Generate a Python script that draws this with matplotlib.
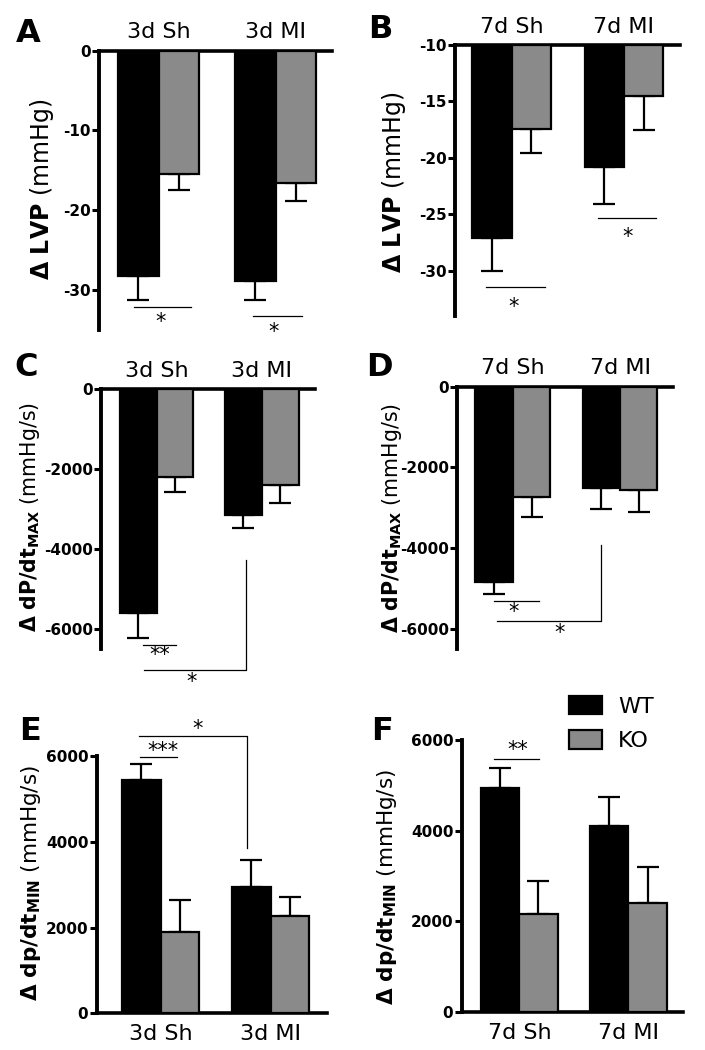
import numpy as np
import matplotlib
matplotlib.use("Agg")
import matplotlib.pyplot as plt

# category labels
groups_3d = ["3d Sh", "3d MI"]
groups_7d = ["7d Sh", "7d MI"]
series_names = ["WT", "KO"]

# A: delta LVP, 3 days (mmHg)
lvp3_wt = [-28.2, -28.8]
lvp3_wt_err = [3.0, 2.5]
lvp3_ko = [-15.5, -16.6]
lvp3_ko_err = [2.0, 2.2]

# B: delta LVP, 7 days (mmHg)
lvp7_wt = [-27.1, -20.8]
lvp7_wt_err = [2.9, 3.3]
lvp7_ko = [-17.4, -14.5]
lvp7_ko_err = [2.2, 3.0]

# C: delta dP/dt max, 3 days (mmHg/s)
dpmax3_wt = [-5580, -3140]
dpmax3_wt_err = [640, 320]
dpmax3_ko = [-2200, -2390]
dpmax3_ko_err = [370, 460]

# D: delta dP/dt max, 7 days (mmHg/s)
dpmax7_wt = [-4840, -2520]
dpmax7_wt_err = [300, 500]
dpmax7_ko = [-2730, -2560]
dpmax7_ko_err = [500, 540]

# E: delta dp/dt min, 3 days (mmHg/s)
dpmin3_wt = [5450, 2940]
dpmin3_wt_err = [360, 640]
dpmin3_ko = [1890, 2280]
dpmin3_ko_err = [750, 430]

# F: delta dp/dt min, 7 days (mmHg/s)
dpmin7_wt = [4930, 4090]
dpmin7_wt_err = [460, 650]
dpmin7_ko = [2150, 2410]
dpmin7_ko_err = [740, 780]

# significance marks: (x0, x1, y, label, label_x, label_y)
sig_a = [(-0.21, 0.28, -32.1, "*", 0.02, -34.0), (0.81, 1.23, -33.25, "*", 0.98, -35.3)]
sig_b = [(-0.23, 0.30, -31.4, "*", 0.02, -33.2), (0.77, 1.29, -25.3, "*", 1.03, -27.0)]
sig_c = [(-0.13, 0.18, -6390, "**", 0.03, -6640)]
sig_d = [(-0.18, 0.24, -5306, "*", 0.01, -5580)]
sig_e = [(-0.19, 0.15, 5967, "***", 0.02, 6120)]
sig_f = [(-0.23, 0.18, 5580, "**", -0.01, 5780)]
# brackets: (x0, x1, y, y_end, label, label_x, label_y)
brk_c = [(-0.12, 0.85, -7017, -4267, "*", 0.33, -7330)]
brk_d = [(-0.15, 0.82, -5802, -3926, "*", 0.44, -6108)]
brk_e = [(-0.20, 0.79, 6465, 3846, "*", 0.34, 6640)]

GRAY = "#8a8a8a"
W, H = 705, 1050

fig = plt.figure(figsize=(W / 100, H / 100), dpi=100)


def px_axes(left, top, right, bottom):
    return fig.add_axes([left / W, 1 - bottom / H, (right - left) / W, (bottom - top) / H])


def draw_panel(ax, groups, wt, wt_err, ko, ko_err, base, ylim, yticks, xlim, on_top):
    x = np.arange(len(groups))
    w = 0.35
    wt = np.array(wt, float)
    ko = np.array(ko, float)
    b1 = ax.bar(x - w / 2, wt - base, w, bottom=base, color="black",
                edgecolor="black", linewidth=1.6, zorder=3)
    b2 = ax.bar(x + w / 2, ko - base, w, bottom=base, color=GRAY,
                edgecolor="black", linewidth=1.6, zorder=3)
    for xs, v, e in ((x - w / 2, wt, wt_err), (x + w / 2, ko, ko_err)):
        e = np.array(e, float)
        z = np.zeros_like(e)
        yerr = [e, z] if on_top else [z, e]
        ax.errorbar(xs, v, yerr=yerr, fmt="none", ecolor="black",
                    elinewidth=1.6, capsize=8, capthick=1.6, zorder=2)
    ax.set_xlim(*xlim)
    ax.set_ylim(*ylim)
    ax.set_yticks(yticks)
    ax.set_yticklabels([str(t) for t in yticks], fontweight="bold", fontsize=11)
    ax.tick_params(axis="y", direction="out", length=5, width=2.2, pad=1)
    ax.set_xticks(x)
    ax.set_xticklabels(groups, fontsize=16)
    if on_top:
        ax.xaxis.tick_top()
        ax.tick_params(axis="x", length=0, pad=6)
        ax.spines["bottom"].set_visible(False)
        ax.spines["top"].set_linewidth(2.6)
    else:
        ax.tick_params(axis="x", length=0, pad=8)
        ax.spines["top"].set_visible(False)
        ax.spines["bottom"].set_linewidth(2.6)
    ax.spines["right"].set_visible(False)
    ax.spines["left"].set_linewidth(2.8)
    ax.patch.set_alpha(0)
    return b1, b2


def draw_sig(ax, sigs, brks=()):
    for x0, x1, y, lab, lx, ly in sigs:
        ax.plot([x0, x1], [y, y], color="black", lw=0.9, clip_on=False)
        ax.text(lx, ly, lab, ha="center", va="center", fontsize=15, clip_on=False)
    for x0, x1, y, y2, lab, lx, ly in brks:
        ax.plot([x0, x1, x1], [y, y, y2], color="black", lw=0.9, clip_on=False)
        ax.text(lx, ly, lab, ha="center", va="center", fontsize=15, clip_on=False)


def letter(x, y, s):
    fig.text(x / W, 1 - y / H, s, fontsize=23, fontweight="bold", ha="center", va="center")


def ylab(x, y, s, size):
    fig.text(x / W, 1 - y / H, s, fontsize=size, rotation=90, ha="center", va="center")


lab_lvp = r"$\mathbf{\Delta\ LVP}$ (mmHg)"
lab_max = r"$\mathbf{\Delta\ dP/dt_{MAX}}$ (mmHg/s)"
lab_min = r"$\mathbf{\Delta\ dp/dt_{MIN}}$ (mmHg/s)"

# A
ax = px_axes(99, 50.7, 332, 330)
draw_panel(ax, groups_3d, lvp3_wt, lvp3_wt_err, lvp3_ko, lvp3_ko_err, 0,
           (-35, 0), [0, -10, -20, -30], (-0.509, 1.483), True)
draw_sig(ax, sig_a)
letter(28, 34, "A")
ylab(42, 189, lab_lvp, 17)

# B
ax = px_axes(455, 45, 680, 316)
draw_panel(ax, groups_7d, lvp7_wt, lvp7_wt_err, lvp7_ko, lvp7_ko_err, -10,
           (-34, -10), [-10, -15, -20, -25, -30], (-0.506, 1.5), True)
draw_sig(ax, sig_b)
letter(380, 30, "B")
ylab(394, 182, lab_lvp, 17)

# C
ax = px_axes(101, 389.3, 315, 649.3)
draw_panel(ax, groups_3d, dpmax3_wt, dpmax3_wt_err, dpmax3_ko, dpmax3_ko_err, 0,
           (-6500, 0), [0, -2000, -4000, -6000], (-0.53, 1.507), True)
draw_sig(ax, sig_c, brk_c)
letter(26, 368, "C")
ylab(30, 517, lab_max, 14.8)

# D
ax = px_axes(457.3, 386.7, 673, 648.9)
draw_panel(ax, groups_7d, dpmax7_wt, dpmax7_wt_err, dpmax7_ko, dpmax7_ko_err, 0,
           (-6500, 0), [0, -2000, -4000, -6000], (-0.52, 1.495), True)
draw_sig(ax, sig_d, brk_d)
letter(379, 368, "D")
ylab(392, 518, lab_max, 14.8)

# E
ax = px_axes(96.7, 756, 326.7, 1013.3)
draw_panel(ax, groups_3d, dpmin3_wt, dpmin3_wt_err, dpmin3_ko, dpmin3_ko_err, 0,
           (0, 6000), [0, 2000, 4000, 6000], (-0.58, 1.51), False)
draw_sig(ax, sig_e, brk_e)
letter(30, 732, "E")
ylab(31, 883, lab_min, 15.5)

# F
ax = px_axes(461.7, 740, 683, 1011.7)
bars = draw_panel(ax, groups_7d, dpmin7_wt, dpmin7_wt_err, dpmin7_ko, dpmin7_ko_err, 0,
                  (0, 6000), [0, 2000, 4000, 6000], (-0.528, 1.5), False)
draw_sig(ax, sig_f)
letter(382, 732, "F")
ylab(387, 887, lab_min, 15.5)
ax.legend(bars, series_names, loc="upper left", bbox_to_anchor=(569 / W, 1 - 696 / H),
          bbox_transform=fig.transFigure, frameon=False, borderpad=0, borderaxespad=0,
          handlelength=1.5, handleheight=0.9, handletextpad=0.7, labelspacing=0.6,
          fontsize=16)

fig.savefig("out.png", dpi=100)
